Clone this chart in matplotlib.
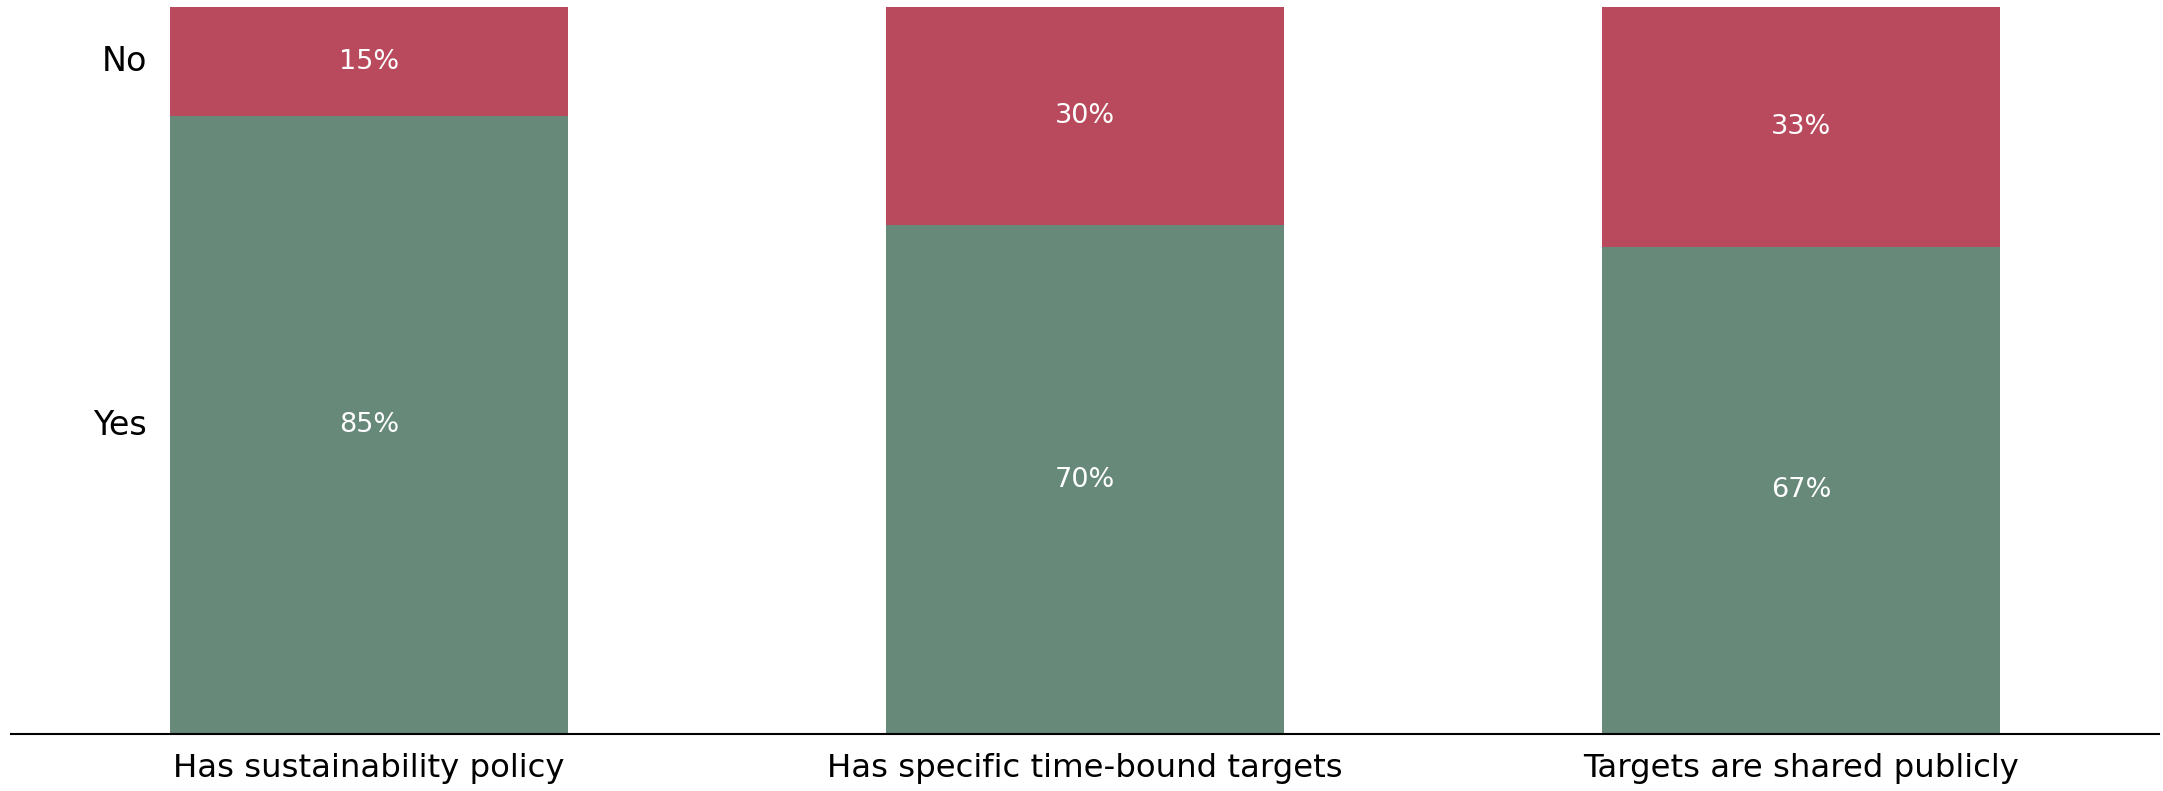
import matplotlib
matplotlib.use('Agg')
import matplotlib.pyplot as plt
import numpy as np

categories = ['Has sustainability policy', 'Has specific time-bound targets', 'Targets are shared publicly']
yes_values = [85, 70, 67]
no_values = [15, 30, 33]
series_names = ['Yes', 'No']

YES_COLOR = '#67897a'
NO_COLOR = '#b94a5d'

plt.rcParams['font.family'] = ['DejaVu Sans']

fig = plt.figure(figsize=(21.63, 7.91), dpi=100)
ax = fig.add_axes([11 / 2163, 57 / 791, 2148 / 2163, 727 / 791])

x = np.arange(len(categories))
width = 0.555
yes = np.array(yes_values)
no = np.array(no_values)
ax.bar(x, yes, width, color=YES_COLOR, linewidth=0, label=series_names[0])
ax.bar(x, no, width, bottom=yes, color=NO_COLOR, linewidth=0, label=series_names[1])

# value labels in the middle of each segment
for i in range(len(categories)):
    ax.text(x[i], yes[i] / 2, f'{yes[i]}%', ha='center', va='center', color='white', fontsize=19.5)
    ax.text(x[i], yes[i] + no[i] / 2, f'{no[i]}%', ha='center', va='center', color='white', fontsize=19.5)

# series names next to the first bar
ax.text(-0.31, yes[0] / 2, series_names[0], ha='right', va='center', fontsize=24)
ax.text(-0.31, yes[0] + no[0] / 2, series_names[1], ha='right', va='center', fontsize=24)

ax.set_xlim(-0.5, 2.5)
ax.set_ylim(0, 100)
ax.set_xticks(x)
ax.set_xticklabels(categories, fontsize=23.3)
ax.tick_params(axis='x', length=0, pad=14)
ax.set_yticks([])
for side in ['top', 'right', 'left']:
    ax.spines[side].set_visible(False)
ax.spines['bottom'].set_linewidth(1.5)

fig.savefig('out.png', dpi=100)
